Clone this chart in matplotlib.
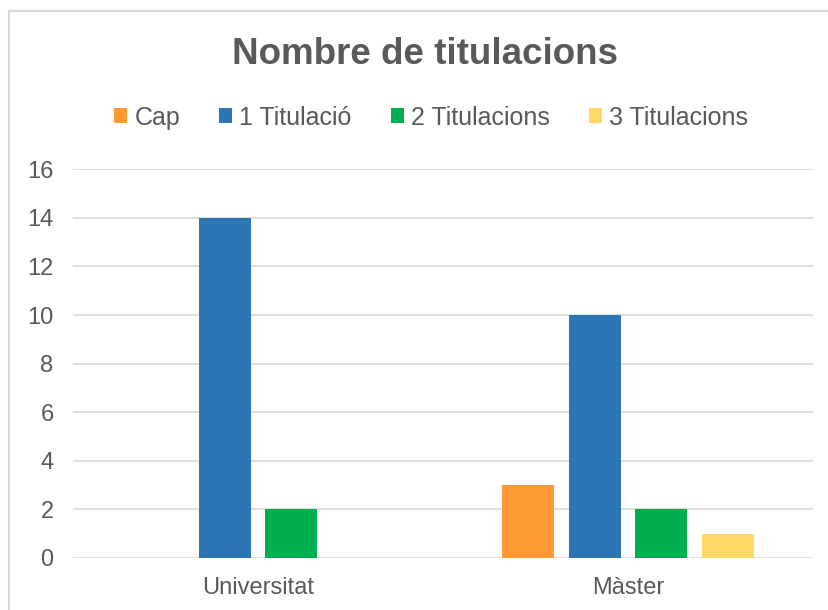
import matplotlib
matplotlib.use("Agg")
import matplotlib.pyplot as plt
import numpy as np
from matplotlib.patches import Patch
from matplotlib.lines import Line2D

plt.rcParams["font.family"] = ["Liberation Sans", "DejaVu Sans"]

categories = ["Universitat", "Màster"]
series_names = ["Cap", "1 Titulació", "2 Titulacions", "3 Titulacions"]
cap = [0, 3]
una = [14, 10]
dues = [2, 2]
tres = [0, 1]
colors = ["#FF9933", "#2E75B6", "#00B050", "#FFD966"]

TEXT = "#595959"
GRID = "#D9D9D9"

fig = plt.figure(figsize=(8.29, 6.10), dpi=100)
ax = fig.add_axes([73 / 829, 1 - 558 / 610, 740 / 829, (558 - 169.3) / 610])

x = np.arange(len(categories))
step = 0.18
width = 0.1414
for i, (vals, color) in enumerate(zip([cap, una, dues, tres], colors)):
    ax.bar(x + (i - 1.5) * step, vals, width, color=color, zorder=3)

ax.set_xlim(-0.5, 1.5)
ax.set_ylim(0, 16)
ax.set_yticks(range(0, 17, 2))
ax.set_xticks(x)
ax.set_xticklabels(categories)
ax.tick_params(axis="both", length=0, labelsize=17, colors=TEXT)
ax.tick_params(axis="y", pad=14)
ax.tick_params(axis="x", pad=14)
ax.grid(axis="y", color=GRID, linewidth=1.2, zorder=0)
for s in ax.spines.values():
    s.set_visible(False)

fig.text(425 / 829, 1 - 54 / 610, "Nombre de titulacions", ha="center", va="center",
         fontsize=26.5, fontweight="bold", color=TEXT)

handles = [Patch(facecolor=c, edgecolor="none") for c in colors]
fig.legend(handles, series_names, loc="center", bbox_to_anchor=(431 / 829, 1 - 117.5 / 610),
           ncol=4, frameon=False, fontsize=18, labelcolor=TEXT,
           handlelength=0.52, handleheight=0.52, handletextpad=0.3,
           columnspacing=1.55, borderaxespad=0)

# borde del gràfic
fig.add_artist(Line2D([9 / 829, 1], [1 - 10.5 / 610] * 2, color="#D9D9D9", linewidth=1.5))
fig.add_artist(Line2D([9 / 829] * 2, [0, 1 - 10.5 / 610], color="#D9D9D9", linewidth=1.5))

fig.savefig("out.png", dpi=100)
